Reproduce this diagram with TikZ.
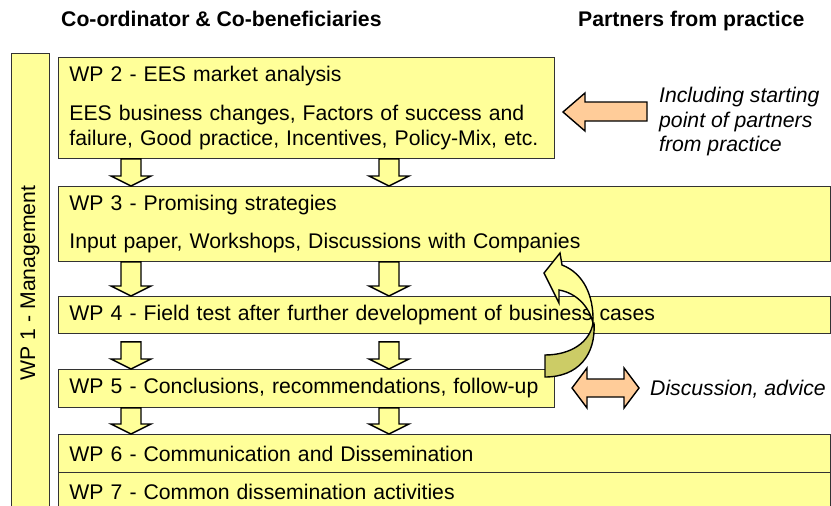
\documentclass[tikz,border=0pt]{standalone}
\usepackage{fontspec}
\setmainfont{Liberation Sans}
\usetikzlibrary{calc}

\definecolor{wpyellow}{HTML}{FFFF99}
\definecolor{wppeach}{HTML}{FFCC99}
\definecolor{wpolive}{HTML}{CCCC66}

\newcommand{\wpfont}{\fontsize{21.2}{24.5}\selectfont}

\tikzset{
  wpbox/.style={draw=black!80, line width=0.9pt, fill=wpyellow, anchor=north west,
    inner xsep=11pt, inner ysep=0pt, align=left, font=\wpfont},
  blockarrow/.style={draw=black, line width=1.4pt, fill=wpyellow},
  headtext/.style={font=\wpfont\bfseries, anchor=base west, inner sep=0pt},
  sidetext/.style={font=\wpfont\itshape, align=left, inner sep=0pt}
}

% block arrow pointing down: x, start, end node, start offset
\newcommand{\blockdown}[4]{%
  \draw[blockarrow] ($(#1,0 |- #2)+(-10,#4)$) -- ($(#1,0 |- #2)+(10,#4)$)
    -- ($(#1,0 |- #3.north)+(10,-10)$) -- ($(#1,0 |- #3.north)+(20,-10)$)
    -- (#1,0 |- #3.north) -- ($(#1,0 |- #3.north)+(-20,-10)$)
    -- ($(#1,0 |- #3.north)+(-10,-10)$) -- cycle;}

\begin{document}
\begin{tikzpicture}[x=1pt, y=-1pt]
  \useasboundingbox (0,0) rectangle (831,506);

  \node[headtext] (cobenef) at (61,27) {Co-ordinator \& Co-beneficiaries};
  \node[headtext] (partners) at (578,27) {Partners from practice};

  \node[wpbox, anchor=center, rotate=90, align=center, minimum width=460pt, minimum height=38pt] (wp1) at (30,283) {WP 1 - Management};

  \node[wpbox, text width=474pt, minimum height=101pt] (wp2) at (58,57) {WP 2 - EES market analysis\\[15pt]\mbox{EES business changes, Factors of success and}\\\mbox{failure, Good practice, Incentives, Policy-Mix, etc.}};
  \node[wpbox, text width=750pt, minimum height=75pt] (wp3) at (58,186) {WP 3 - Promising strategies\\[14pt]Input paper, Workshops, Discussions with Companies};
  \node[wpbox, text width=750pt, minimum height=37pt] (wp4) at (58,296) {WP 4 - Field test after further development of business cases};
  \node[wpbox, text width=474pt, minimum height=38pt] (wp5) at (58,369) {\mbox{WP 5 - Conclusions, recommendations, follow-up}};
  \node[wpbox, text width=750pt, minimum height=38pt] (wp6) at (58,434) {WP 6 - Communication and Dissemination};
  \node[wpbox, text width=750pt, minimum height=38pt] (wp7) at (58,472) {WP 7 - Common dissemination activities};

  \blockdown{131}{wp2.south}{wp3}{0}
  \blockdown{389}{wp2.south}{wp3}{0}
  \blockdown{131}{wp3.south}{wp4}{0}
  \blockdown{389}{wp3.south}{wp4}{0}
  \blockdown{131}{wp4.south}{wp5}{8}
  \blockdown{389}{wp4.south}{wp5}{8}
  \blockdown{131}{wp5.south}{wp6}{0}
  \blockdown{389}{wp5.south}{wp6}{0}

  \node[sidetext, anchor=north west] (startpt) at (659,87) {Including starting\\point of partners\\from practice};
  \node[sidetext, anchor=base west] (advice) at (650,395) {Discussion, advice};

  % arrows from the partners
  \draw[blockarrow, fill=wppeach] (563,112) -- (585,93) -- (585,102) -- (647,102)
    -- (647,121) -- (585,121) -- (585,131) -- cycle;
  \draw[blockarrow, fill=wppeach] (572,388) -- (587,368) -- (587,379) -- (624,379)
    -- (624,368) -- (639,388) -- (624,408) -- (624,397) -- (587,397) -- (587,408) -- cycle;

  % feedback from WP 5 to WP 3
  \draw[blockarrow, fill=wpolive] (593,323) .. controls (590,342) and (571,355) .. (545,355)
    -- (545,377) .. controls (578,377) and (596,355) .. (594,323) -- cycle;
  \draw[blockarrow] (560,253) -- (544,273) -- (559,303) -- (559,290)
    .. controls (576,293) and (589,306) .. (593,323)
    .. controls (594,295) and (583,273) .. (562,265) -- cycle;
\end{tikzpicture}
\end{document}
